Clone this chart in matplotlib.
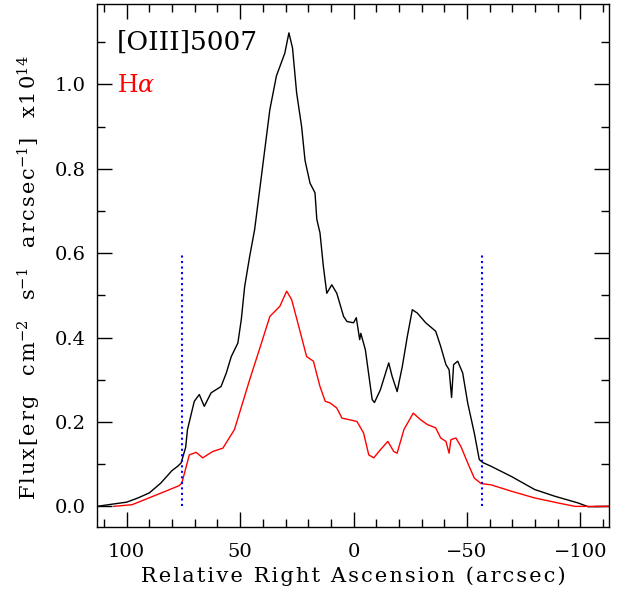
import numpy as np
import matplotlib.pyplot as plt
from matplotlib.ticker import MultipleLocator

plt.rcParams['font.family'] = 'DejaVu Serif'
plt.rcParams['mathtext.fontset'] = 'dejavuserif'

# [OIII]5007 profile (arcsec, flux x1e14)
oiii_x = [113, 108, 100, 95, 90, 85, 80, 77.5, 76, 74, 73.2, 70.2, 68, 65.8, 62.8, 58.4,
          56.1, 53.9, 51, 49.5, 48, 45.8, 43.6, 36.9, 34, 30.3, 28.5, 26.9, 25.1, 22.9,
          21.4, 19.2, 17.0, 16.2, 14.8, 13.3, 11.8, 9.6, 7.4, 4.4, 2.9, 0, -1.2, -2.7,
          -3.2, -5.2, -8.2, -9.2, -11.8, -15.5, -17, -19.2, -21.5, -23.7, -25.9, -28.1,
          -31.8, -36.2, -38.4, -40.7, -42.1, -43.2, -44.1, -45.9, -48.1, -50.3, -53.2,
          -55.4, -56.9, -60.6, -69.5, -79.8, -88.7, -99, -103.5, -113]
oiii_y = [0.0, 0.004, 0.01, 0.02, 0.032, 0.055, 0.085, 0.095, 0.103, 0.14, 0.182, 0.249,
          0.265, 0.237, 0.269, 0.284, 0.316, 0.355, 0.387, 0.442, 0.521, 0.592, 0.656,
          0.94, 1.02, 1.074, 1.122, 1.086, 0.98, 0.90, 0.82, 0.766, 0.743, 0.68, 0.648,
          0.568, 0.505, 0.525, 0.505, 0.45, 0.438, 0.435, 0.447, 0.395, 0.41, 0.371,
          0.253, 0.246, 0.276, 0.34, 0.308, 0.272, 0.332, 0.403, 0.466, 0.458, 0.435,
          0.415, 0.379, 0.336, 0.324, 0.258, 0.336, 0.344, 0.316, 0.245, 0.174, 0.111,
          0.104, 0.095, 0.071, 0.040, 0.024, 0.008, -0.001, 0.0]

# Halpha profile
ha_x = [105.7, 97.6, 90.2, 82.8, 76.9, 75.7, 72.4, 69.4, 66.5, 62.1, 57.6, 52.5, 45.8,
        40.6, 36.9, 32.5, 29.5, 27.3, 23.6, 20.7, 17.7, 14.8, 12.5, 10.3, 7.4, 5.1,
        1.5, -1.5, -4.4, -6.7, -8.9, -11.8, -15.1, -17.7, -19.2, -22.2, -26.3, -29.6,
        -32.5, -36.2, -38.4, -40.7, -42.1, -42.9, -45.1, -47.3, -50.3, -53.2, -56.2,
        -60.6, -69.5, -79.8, -90.2, -97.6, -113]
ha_y = [0.0, 0.004, 0.02, 0.036, 0.049, 0.055, 0.122, 0.128, 0.115, 0.13, 0.138, 0.182,
        0.30, 0.387, 0.45, 0.474, 0.51, 0.49, 0.415, 0.355, 0.344, 0.284, 0.249, 0.245,
        0.233, 0.209, 0.205, 0.201, 0.174, 0.122, 0.115, 0.134, 0.154, 0.130, 0.126,
        0.182, 0.221, 0.205, 0.194, 0.186, 0.162, 0.154, 0.126, 0.158, 0.162, 0.142,
        0.103, 0.067, 0.054, 0.051, 0.036, 0.02, 0.008, 0.0, 0.0]

slit_edges = [75.7, -56.4]
slit_top = 0.6


def spaced(s):
    # slightly wider letter spacing, like the original plotting package
    return '\u200a'.join(s)


xlabel = spaced('Relative Right Ascension (arcsec)')
ylabel = (spaced('Flux[erg  cm') + r'$^{-2}$' + '   ' + spaced('s') + r'$^{-1}$' + '   '
          + spaced('arcsec') + r'$^{-1}$' + spaced(']  x10') + r'$^{14}$')

fig = plt.figure(figsize=(6.27, 5.94), dpi=100)
ax = fig.add_axes([0.155, 0.112, 0.816, 0.881])

ax.plot(oiii_x, oiii_y, color='black', lw=1.0)
ax.plot(ha_x, ha_y, color='red', lw=1.0)
for xe in slit_edges:
    ax.plot([xe, xe], [0, slit_top], color='blue', ls=':', lw=1.5)

ax.set_xlim(113, -112.5)
ax.set_ylim(-0.05, 1.19)

ax.xaxis.set_major_locator(MultipleLocator(50))
ax.xaxis.set_minor_locator(MultipleLocator(10))
ax.yaxis.set_major_locator(MultipleLocator(0.2))
ax.yaxis.set_minor_locator(MultipleLocator(0.1))
ax.tick_params(which='both', direction='in', top=True, right=True, labelsize=14, width=1)
ax.tick_params(which='major', length=10.5)
ax.tick_params(axis='x', which='major', pad=11)
ax.tick_params(axis='y', which='major', pad=8)
ax.tick_params(which='minor', length=6)
ax.xaxis.set_major_formatter(plt.FuncFormatter(lambda v, p: f'{v:.0f}'.replace('-', '\u2212')))
ax.yaxis.set_major_formatter(plt.FuncFormatter(lambda v, p: f'{v:.1f}'))
for s in ax.spines.values():
    s.set_linewidth(1.0)

ax.set_xlabel(xlabel, fontsize=15, labelpad=4)
ax.set_ylabel(ylabel, fontsize=15)
ax.yaxis.set_label_coords(-0.106, 0.477)

ax.text(0.039, 0.928, '[OIII]5007', transform=ax.transAxes, fontsize=19, va='center')
ax.text(0.039, 0.845, r'H$\alpha$', transform=ax.transAxes, fontsize=17, va='center', color='red')

fig.savefig('out.png', dpi=100)
